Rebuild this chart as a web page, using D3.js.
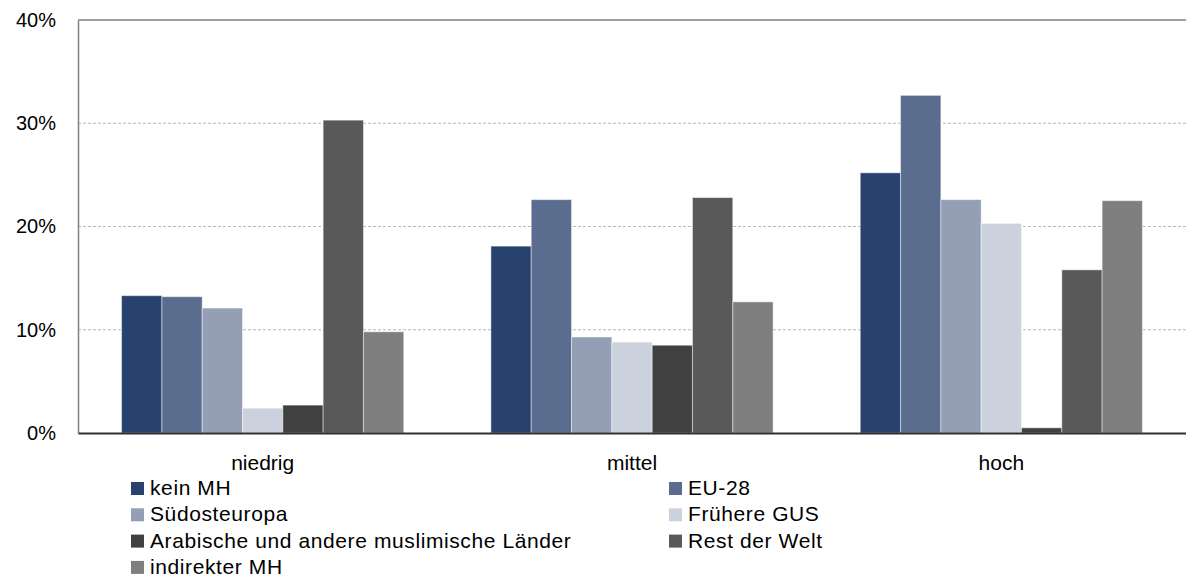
<!DOCTYPE html>
<html>
<head>
<meta charset="utf-8">
<script src="https://cdn.jsdelivr.net/npm/d3@7"></script>
<style>
  body { margin: 0; background: #fff; }
  svg { display: block; font-family: "Liberation Sans", Arial, sans-serif; }
</style>
</head>
<body>
<svg id="chart" width="1186" height="578"></svg>
<script>
const categories = ["niedrig", "mittel", "hoch"];
const seriesNames = [
  "kein MH",
  "EU-28",
  "Südosteuropa",
  "Frühere GUS",
  "Arabische und andere muslimische Länder",
  "Rest der Welt",
  "indirekter MH",
];
const seriesColors = ["#29416f", "#5b6d8e", "#949fb6", "#cbd2de", "#404040", "#595959", "#7f7f7f"];
const values = [
  [13.3, 18.1, 25.2],
  [13.2, 22.6, 32.7],
  [12.1, 9.3, 22.6],
  [2.4, 8.8, 20.3],
  [2.7, 8.5, 0.5],
  [30.3, 22.8, 15.8],
  [9.8, 12.7, 22.5],
];
const yTicks = [0, 10, 20, 30, 40];

const svg = d3.select("#chart");
const margin = { top: 20, right: 0, bottom: 145, left: 78 };
const width = 1186 - margin.left - margin.right;
const height = 578 - margin.top - margin.bottom;

const g = svg.append("g").attr("transform", `translate(${margin.left},${margin.top})`);

const x0 = d3.scaleBand().domain(categories).range([0, width]).paddingInner(0.236).paddingOuter(0.118);
const x1 = d3.scaleBand().domain(seriesNames).range([0, x0.bandwidth()]);
const y = d3.scaleLinear().domain([0, 40]).range([height, 0]);

// gridlines
g.append("g")
  .selectAll("line")
  .data(yTicks.filter((t) => t > 0 && t < 40))
  .join("line")
  .attr("x1", 0)
  .attr("x2", width)
  .attr("y1", (d) => y(d))
  .attr("y2", (d) => y(d))
  .attr("stroke", "#b8b8b8")
  .attr("stroke-width", 1)
  .attr("stroke-dasharray", "3,2");

g.append("line")
  .attr("x1", 0).attr("x2", width)
  .attr("y1", y(40)).attr("y2", y(40))
  .attr("stroke", "#808080").attr("stroke-width", 1.5);

// bars
const rows = categories.flatMap((c, ci) =>
  seriesNames.map((s, si) => ({ c, s, si, v: values[si][ci] }))
);
g.append("g")
  .selectAll("rect")
  .data(rows)
  .join("rect")
  .attr("x", (d) => x0(d.c) + x1(d.s))
  .attr("y", (d) => y(d.v))
  .attr("width", x1.bandwidth())
  .attr("height", (d) => y(0) - y(d.v))
  .attr("fill", (d) => seriesColors[d.si])
  .attr("stroke", "#ffffff")
  .attr("stroke-opacity", 0.45)
  .attr("stroke-width", 1);

// y axis
const yAxis = g.append("g").call(
  d3.axisLeft(y).tickValues(yTicks).tickFormat((d) => d + "%").tickSize(0).tickPadding(22)
);
yAxis.select(".domain").attr("stroke", "#808080").attr("stroke-width", 1.5);
yAxis.selectAll("text").attr("font-size", 20).attr("fill", "#000").attr("font-family", "Liberation Sans, Arial, sans-serif");

// x axis
const xAxis = g.append("g").attr("transform", `translate(0,${height})`).call(
  d3.axisBottom(x0).tickSize(0).tickPadding(22)
);
xAxis.select(".domain").attr("stroke", "#303030").attr("stroke-width", 2);
xAxis.selectAll("text").attr("font-size", 21).attr("fill", "#000").attr("font-family", "Liberation Sans, Arial, sans-serif");

// legend
const legend = svg.append("g").attr("transform", "translate(131,482)");
const items = legend.selectAll("g")
  .data(seriesNames)
  .join("g")
  .attr("transform", (d, i) => `translate(${(i % 2) * 538},${Math.floor(i / 2) * 26.3})`);
items.append("rect")
  .attr("width", 13).attr("height", 13)
  .attr("fill", (d, i) => seriesColors[i]);
items.append("text")
  .attr("x", 19).attr("y", 13)
  .attr("font-size", 21)
  .attr("letter-spacing", 0.6)
  .attr("fill", "#000")
  .text((d) => d);
</script>
</body>
</html>
